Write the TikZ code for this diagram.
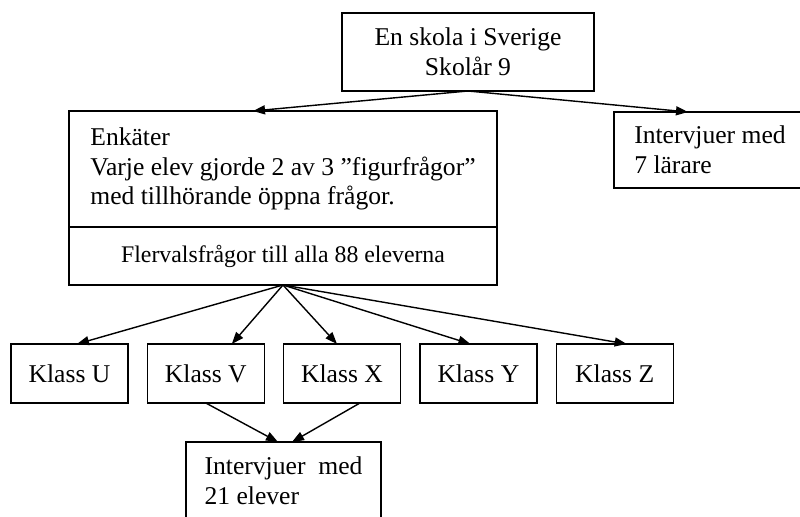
\documentclass[tikz,border=0pt]{standalone}
\usepackage{fontspec}
\setmainfont{Liberation Serif}
\usetikzlibrary{arrows.meta,positioning}

\begin{document}
\begin{tikzpicture}[x=0.5pt, y=-0.5pt, line width=0.7pt,
    box/.style={draw, rectangle, inner sep=0pt, outer sep=0pt, font=\fontsize{12.8}{14.75}\selectfont},
    textbox/.style={box, align=left, minimum width=#1},
    klass/.style={box, minimum width=58.5pt, minimum height=29.5pt},
    pil/.style={-{Triangle[length=6pt,width=4.5pt]}}]
    \useasboundingbox (0,0) rectangle (800,517);

    \node[box, align=center, minimum width=126pt, minimum height=39pt] (skola) at (468,52) {En skola i Sverige\\Skolår 9};
    \node[textbox=214pt, minimum height=58pt] (enk) at (283,169) {Enkäter\\Varje elev gjorde 2 av 3 ”figurfrågor”\\med tillhörande öppna frågor.};
    \node[box, minimum width=214pt, minimum height=29pt, below=0pt of enk, font=\fontsize{11.9}{13.7}\selectfont] (fler) {Flervalsfrågor till alla 88 eleverna};
    \node[textbox=96pt, minimum height=38pt, anchor=north west] (lar) at (614,112) {Intervjuer med\\7 lärare};

    \draw[pil] (skola.south) -- ([xshift=-15pt]enk.north);
    \draw[pil] (skola.south) -- ([xshift=37pt]lar.north west);

    % klasserna
    \foreach \k/\xx/\dx in {U/69.5/3.75, V/205.8/13, X/342/-2.5, Y/478.4/-4, Z/614.7/6} {
        \node[klass] (k\k) at (\xx,373.5) {Klass \k};
        \draw[pil] (fler.south) -- ([xshift=\dx pt]k\k.north);
    }

    \node[textbox=97.5pt, minimum height=39pt, anchor=north west] (elev) at (186,442) {Intervjuer\ \ med\\21 elever};
    \draw[pil] (kV.south) -- ([xshift=-2.75pt]elev.north);
    \draw[pil] ([xshift=9pt]kX.south) -- ([xshift=4.25pt]elev.north);
\end{tikzpicture}
\end{document}
